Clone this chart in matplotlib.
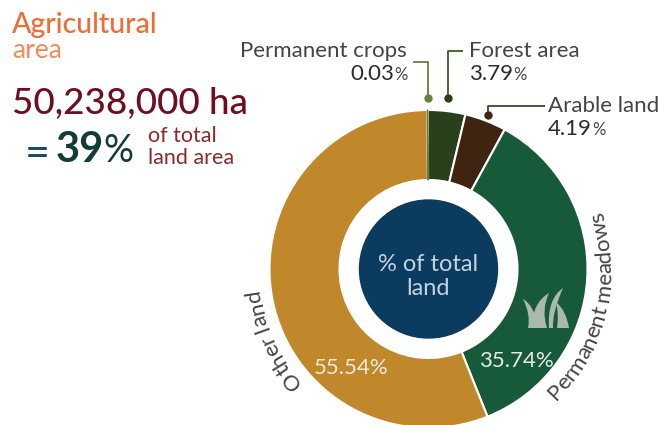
import math
import matplotlib
matplotlib.use('Agg')
import matplotlib.pyplot as plt
from matplotlib.font_manager import FontProperties
from matplotlib.patches import Circle, PathPatch
from matplotlib.path import Path
from matplotlib.textpath import text_to_path

# land use, % of total land, clockwise from the top
categories = ['Permanent crops', 'Forest area', 'Arable land', 'Permanent meadows', 'Other land']
shares = [0.03, 3.79, 4.19, 35.74, 55.54]
colors = ['#66803f', '#28401c', '#3f2412', '#175a3a', '#c0872b']

title_main = 'Agricultural'
title_sub = 'area'
total_area = '50,238,000 ha'
total_pct = '39'

FONT = 'Lato'
plt.rcParams['font.family'] = [FONT, 'DejaVu Sans']

fig = plt.figure(figsize=(6.6, 4.25), dpi=100)
ax = fig.add_axes([0, 0, 1, 1])

cx, cy, radius = 428.5, 269, 159

wedges, _ = ax.pie(shares, colors=colors, startangle=-90.4, counterclock=True,
                   center=(cx, cy), radius=radius,
                   wedgeprops={'width': 70, 'edgecolor': 'white', 'linewidth': 1.5})
# the thin one would vanish under a white edge
wedges[0].set_edgecolor(colors[0])
wedges[0].set_linewidth(1.0)
wedges[0].set_zorder(3)

ax.set_xlim(0, 660)
ax.set_ylim(425, 0)
ax.set_aspect('equal')
ax.axis('off')

ax.add_patch(Circle((cx, cy), 69, color='#0b3b5e', zorder=4))


def label(x, y, s, size, color, ha='left', weight='normal', **kw):
    return ax.text(x, y, s, fontsize=size, color=color, ha=ha, va='baseline',
                   fontweight=weight, zorder=6, **kw)


def text_width(s, size):
    w, _, _ = text_to_path.get_text_width_height_descent(s, FontProperties(family=FONT, size=size), False)
    return w * 100 / 72


def value_label(x, y, value, ha='left'):
    # number in dark, the % sign smaller and lighter
    num = f'{value:.2f}'
    num_w = text_width(num, 16)
    pct_w = text_width('%', 12)
    left = x if ha == 'left' else x - num_w - pct_w
    label(left, y, num, 16, '#2b2b2b')
    label(left + num_w, y, '%', 12, '#444444')


def curved_text(s, size, color, r, start_deg, clockwise):
    # start_deg is measured on the picture: 0 = east, 90 = north
    sign = -1 if clockwise else 1
    for i, ch in enumerate(s):
        mid = text_width(s[:i], size) + text_width(ch, size) / 2
        a = start_deg + sign * math.degrees(mid / r)
        x = cx + r * math.cos(math.radians(a))
        y = cy - r * math.sin(math.radians(a))
        rot = a - 90 if clockwise else a + 90
        ax.text(x, y, ch, fontsize=size, color=color, ha='center', va='baseline',
                rotation=rot, rotation_mode='anchor', zorder=6)


# title block
label(12, 33, title_main, 20.5, '#f26b32', weight='medium')
label(12, 58, title_sub, 19, '#f58a5c')
label(12, 114, total_area, 26.5, '#6e0f1f', weight='medium')
label(25, 166, '=', 31, '#1d4a68')
label(56, 162, total_pct, 30, '#123c3c', weight='bold')
label(103, 162, '%', 27, '#123c3c')
label(148, 142, 'of total', 15.5, '#8a2a2a')
label(148, 164, 'land area', 15.5, '#8a2a2a')

# callouts
line_kw = {'lw': 1.3, 'zorder': 5, 'solid_capstyle': 'butt'}
ax.plot([413, 428, 428], [62, 62, 98], color='#66803f', **line_kw)
ax.plot([428], [98], 'o', ms=5, color='#66803f', zorder=5)
ax.plot([463, 448, 448], [51, 51, 98], color='#3f5a28', **line_kw)
ax.plot([448], [98], 'o', ms=5, color='#28401c', zorder=5)
ax.plot([545, 488, 488], [106, 106, 115], color='#5a3a22', **line_kw)
ax.plot([488], [115], 'o', ms=5, color='#3f2412', zorder=5)

grey = '#444444'
label(407, 57, categories[0], 16, grey, ha='right')
value_label(408, 80, shares[0], ha='right')
label(469, 57, categories[1], 16, grey)
value_label(469, 80, shares[1])
label(548, 112, categories[2], 16, grey)
value_label(548, 135, shares[2])

# inside the ring
label(cx, 271, '% of total', 17, '#c5d3de', ha='center')
label(cx, 295, 'land', 17, '#c5d3de', ha='center')
label(516, 367, f'{shares[3]:.2f}%', 16, '#e6ece6', ha='center')
label(351, 374, f'{shares[4]:.2f}%', 16, '#f5ecd8', ha='center')

curved_text(categories[3], 16, grey, 183, -46, False)
curved_text(categories[4], 16, grey, 170, 222, True)

# grass icon
M, C, L, Z = Path.MOVETO, Path.CURVE3, Path.LINETO, Path.CLOSEPOLY
blades = [
    [(523, 299), (534, 305), (539, 328), (528, 328), (531, 315), (523, 299), (523, 299)],
    [(549, 293), (532, 303), (532, 328), (547, 328), (541, 310), (549, 293), (549, 293)],
    [(563, 288), (547, 299), (549, 328), (553, 328), (552, 313), (563, 288), (563, 288)],
    [(556, 302), (566, 310), (569, 328), (557, 328), (559, 315), (556, 302), (556, 302)],
]
codes = [M, C, C, L, C, C, Z]
for b in blades:
    ax.add_patch(PathPatch(Path(b, codes), facecolor='#a9b9ad', edgecolor='none', zorder=5))

fig.savefig('out.png', dpi=100, facecolor='white')
